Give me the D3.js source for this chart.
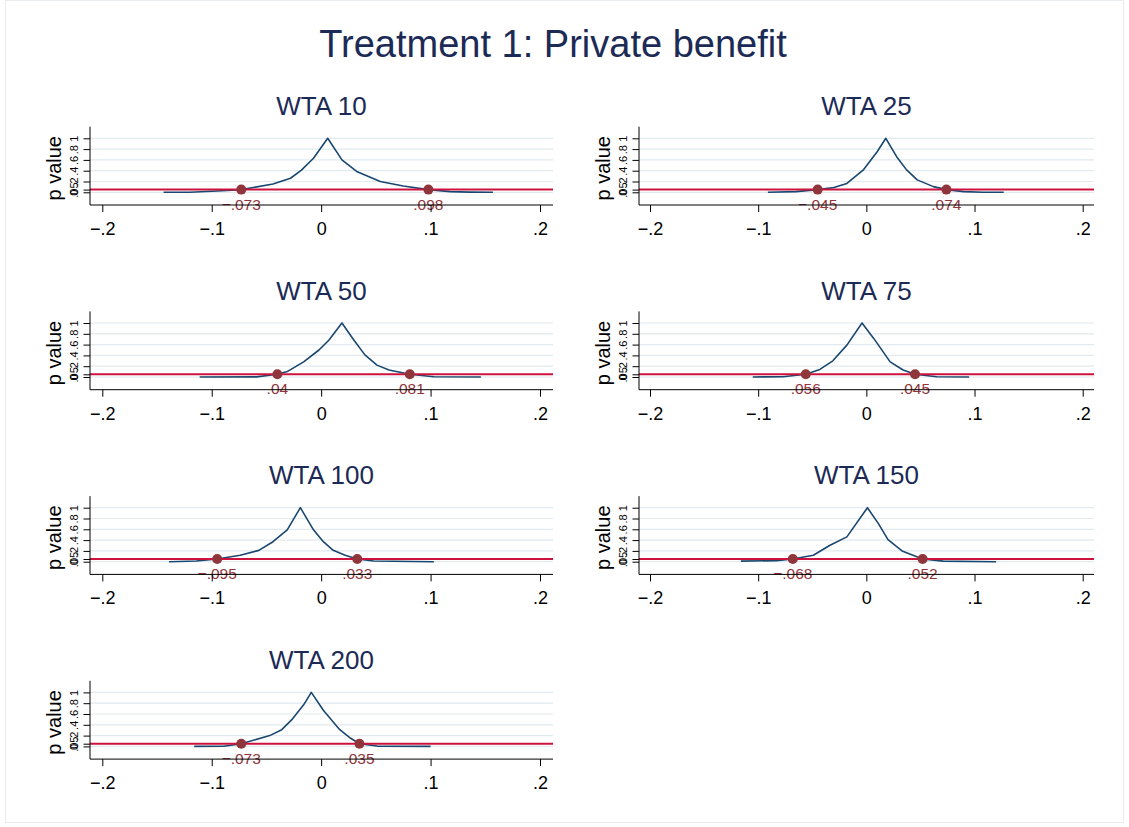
<!DOCTYPE html>
<html>
<head>
<meta charset="utf-8">
<title>Treatment 1: Private benefit</title>
<script src="https://cdnjs.cloudflare.com/ajax/libs/d3/7.8.5/d3.min.js"></script>
<style>
 body { margin: 0; background: white; }
 text { font-family: "Liberation Sans", Arial, Helvetica, sans-serif; }
 .title { font-size: 38px; fill: #1c2a56; }
 .subtitle { font-size: 26px; fill: #1c2a56; }
 .ylab { font-size: 20px; fill: #000; }
 .xtick text { font-size: 18px; fill: #000; }
 .ytick text { font-size: 11px; fill: #000; }
 .cilab { font-size: 15.5px; fill: #90353b; }
</style>
</head>
<body>
<svg id="viz" width="1129" height="827"></svg>
<script>

// panel names
var panels = ["WTA 10", "WTA 25", "WTA 50", "WTA 75", "WTA 100", "WTA 150", "WTA 200"];

// p value curves: [hypothesised effect, p value]
var curve10  = [[-0.144,0],[-0.120,0.002],[-0.095,0.025],[-0.073,0.05],[-0.044,0.154],[-0.028,0.26],[-0.018,0.41],[-0.007,0.63],[0.006,1],[0.019,0.60],[0.033,0.38],[0.054,0.20],[0.075,0.117],[0.098,0.05],[0.118,0.012],[0.136,0.003],[0.157,0]];
var curve25  = [[-0.091,0],[-0.065,0.012],[-0.045,0.05],[-0.030,0.09],[-0.018,0.165],[-0.003,0.41],[0.010,0.75],[0.018,1],[0.028,0.66],[0.037,0.42],[0.047,0.23],[0.062,0.105],[0.074,0.05],[0.090,0.012],[0.108,0.002],[0.127,0]];
var curve50  = [[-0.111,0],[-0.059,0.002],[-0.040,0.05],[-0.031,0.10],[-0.016,0.28],[-0.002,0.50],[0.007,0.68],[0.019,1],[0.030,0.68],[0.040,0.41],[0.051,0.22],[0.062,0.13],[0.081,0.05],[0.103,0.006],[0.146,0]];
var curve75  = [[-0.105,0],[-0.077,0.006],[-0.056,0.05],[-0.043,0.14],[-0.031,0.30],[-0.018,0.59],[-0.004,1],[0.007,0.71],[0.022,0.28],[0.034,0.13],[0.045,0.05],[0.065,0.006],[0.095,0]];
var curve100 = [[-0.139,0],[-0.114,0.012],[-0.095,0.05],[-0.074,0.12],[-0.057,0.21],[-0.044,0.37],[-0.031,0.59],[-0.019,1],[-0.007,0.59],[0.002,0.37],[0.011,0.21],[0.022,0.12],[0.033,0.05],[0.048,0.012],[0.103,0]];
var curve150 = [[-0.116,0.01],[-0.083,0.02],[-0.068,0.05],[-0.049,0.12],[-0.034,0.30],[-0.018,0.46],[0.001,1],[0.011,0.71],[0.020,0.41],[0.033,0.20],[0.052,0.05],[0.071,0.01],[0.120,0]];
var curve200 = [[-0.116,0],[-0.089,0.002],[-0.073,0.05],[-0.047,0.20],[-0.036,0.31],[-0.027,0.49],[-0.016,0.77],[-0.009,1],[0.002,0.67],[0.017,0.31],[0.027,0.15],[0.035,0.05],[0.051,0.006],[0.100,0]];
var curves = [curve10, curve25, curve50, curve75, curve100, curve150, curve200];

// confidence bounds where p crosses .05
var ciLower = [-0.073, -0.045, -0.040, -0.056, -0.095, -0.068, -0.073];
var ciUpper = [0.098, 0.074, 0.081, 0.045, 0.033, 0.052, 0.035];
var ciLowerLabels = ["\u2212.073", "\u2212.045", ".04", ".056", "\u2212.095", "\u2212.068", "\u2212.073"];
var ciUpperLabels = [".098", ".074", ".081", ".045", ".033", ".052", ".035"];

var alpha = 0.05;

var xTicks = [-0.2, -0.1, 0, 0.1, 0.2];
var xTickLabels = ["\u2212.2", "\u2212.1", "0", ".1", ".2"];
var yTicks = [0, 0.05, 0.2, 0.4, 0.6, 0.8, 1];
var yTickLabels = ["0", ".05", ".2", ".4", ".6", ".8", "1"];

var svg = d3.select("#viz");

// faint outer frame
svg.append("rect")
  .attr("x", 5.5).attr("y", 0.5).attr("width", 1118).attr("height", 822)
  .attr("fill", "none").attr("stroke", "#e8ecef");

svg.append("text")
  .attr("class", "title")
  .attr("x", 553).attr("y", 57)
  .attr("text-anchor", "middle")
  .text("Treatment 1: Private benefit");

// column geometry: plot region edges and where -.2 / .2 fall
var cols = [
  { left: 90,  right: 553,  r0: 102.3, r1: 540 },
  { left: 639, right: 1094, r0: 650,   r1: 1082.7 }
];
var rowStep = 184.7;

panels.forEach(function(name, i) {
  var c = cols[i % 2];
  var dy = Math.floor(i / 2) * rowStep;

  var x = d3.scaleLinear().domain([-0.2, 0.2]).range([c.r0, c.r1]);
  var y = d3.scaleLinear().domain([0, 1]).range([192.3 + dy, 138.3 + dy]);
  var top = 126.7 + dy, bottom = 205 + dy;

  var g = svg.append("g");

  // gridlines
  g.selectAll(".grid")
    .data(yTicks.filter(function(t) { return t !== alpha; }))
    .enter().append("line")
    .attr("x1", c.left).attr("x2", c.right)
    .attr("y1", function(d) { return y(d); })
    .attr("y2", function(d) { return y(d); })
    .attr("stroke", "#e1eaee").attr("stroke-width", 1.2);

  // p value curve
  g.append("path")
    .datum(curves[i])
    .attr("fill", "none")
    .attr("stroke", "#1a476f")
    .attr("stroke-width", 1.6)
    .attr("stroke-linejoin", "round")
    .attr("d", d3.line()
      .x(function(d) { return x(d[0]); })
      .y(function(d) { return y(d[1]); }));

  // .05 line
  g.append("line")
    .attr("x1", c.left).attr("x2", c.right)
    .attr("y1", y(alpha)).attr("y2", y(alpha))
    .attr("stroke", "#ce123e").attr("stroke-width", 2);

  // bounds
  var bounds = [
    { v: ciLower[i], lab: ciLowerLabels[i] },
    { v: ciUpper[i], lab: ciUpperLabels[i] }
  ];
  g.selectAll(".dot")
    .data(bounds)
    .enter().append("circle")
    .attr("cx", function(d) { return x(d.v); })
    .attr("cy", y(alpha))
    .attr("r", 5)
    .attr("fill", "#90353b");

  g.selectAll(".cilab")
    .data(bounds)
    .enter().append("text")
    .attr("class", "cilab")
    .attr("x", function(d) { return x(d.v); })
    .attr("y", y(alpha) + 20)
    .attr("text-anchor", "middle")
    .text(function(d) { return d.lab; });

  // x axis
  var xa = g.append("g")
    .attr("class", "xtick")
    .attr("transform", "translate(0," + bottom + ")")
    .call(d3.axisBottom(x).tickValues(xTicks)
      .tickFormat(function(d, k) { return xTickLabels[k]; })
      .tickSize(7).tickSizeOuter(0));
  xa.select(".domain").remove();
  xa.selectAll("line").attr("stroke", "#000");
  xa.selectAll("text").attr("dy", null).attr("y", 30);
  g.append("line")
    .attr("x1", c.left).attr("x2", c.right)
    .attr("y1", bottom).attr("y2", bottom)
    .attr("stroke", "#000");

  // y axis
  var ya = g.append("g")
    .attr("class", "ytick")
    .attr("transform", "translate(" + c.left + ",0)")
    .call(d3.axisLeft(y).tickValues(yTicks)
      .tickFormat(function(d, k) { return yTickLabels[k]; })
      .tickSize(6.5).tickSizeOuter(0));
  ya.select(".domain").remove();
  ya.selectAll("line").attr("stroke", "#000");
  ya.selectAll("text")
    .attr("x", null).attr("dy", null)
    .attr("text-anchor", "middle")
    .attr("transform", "translate(-12,0) rotate(-90)");
  g.append("line")
    .attr("x1", c.left).attr("x2", c.left)
    .attr("y1", top).attr("y2", bottom)
    .attr("stroke", "#000");

  g.append("text")
    .attr("class", "ylab")
    .attr("text-anchor", "middle")
    .attr("transform", "translate(" + (c.left - 29) + "," + (y(0.5) + 3) + ") rotate(-90)")
    .text("p value");

  g.append("text")
    .attr("class", "subtitle")
    .attr("x", (c.left + c.right) / 2)
    .attr("y", 115 + dy)
    .attr("text-anchor", "middle")
    .text(name);
});

</script>
</body>
</html>
